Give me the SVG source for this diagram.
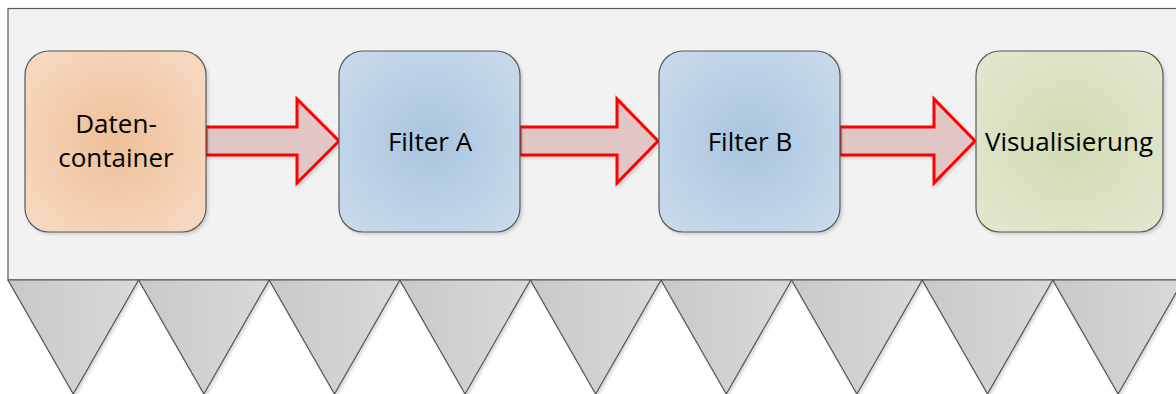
<svg xmlns="http://www.w3.org/2000/svg" width="1176" height="394" viewBox="0 0 1176 394">
<defs>
<radialGradient id="gOrange" cx="50%" cy="50%" r="60%">
<stop offset="0" stop-color="#efbf98"/><stop offset="1" stop-color="#f6d8bf"/>
</radialGradient>
<radialGradient id="gBlue" cx="50%" cy="50%" r="60%">
<stop offset="0" stop-color="#a9c4de"/><stop offset="1" stop-color="#c6d9ea"/>
</radialGradient>
<radialGradient id="gGreen" cx="50%" cy="50%" r="60%">
<stop offset="0" stop-color="#d2dbb2"/><stop offset="1" stop-color="#e1e6cc"/>
</radialGradient>
<linearGradient id="gTri" x1="0" y1="0" x2="1" y2="0">
<stop offset="0" stop-color="#c9c9c9"/><stop offset="1" stop-color="#d9d9d9"/>
</linearGradient>
<filter id="sh" x="-10%" y="-10%" width="130%" height="130%">
<feDropShadow dx="2" dy="2" stdDeviation="1.5" flood-color="#000" flood-opacity="0.15"/>
</filter>
</defs>
<style>
.box{stroke:#595959;stroke-width:1.2;filter:url(#sh)}
.lbl{font-family:"Open Sans","Liberation Sans",sans-serif;font-size:26px;fill:#000;text-anchor:middle}
.arr{fill:#e2c6c6;stroke:#ff0000;stroke-width:3;stroke-linejoin:miter;filter:url(#sh)}
.tri{fill:url(#gTri);stroke:#555;stroke-width:1.2;filter:url(#sh)}
</style>
<g id="container">
<rect x="8" y="8.5" width="1180" height="271.5" fill="#f2f2f2" stroke="#595959" stroke-width="1.2"/>
</g>
<g id="teeth">
<polygon class="tri" points="8,280 138.6,280 73.3,394"/>
<polygon class="tri" points="138.6,280 269.2,280 203.9,394"/>
<polygon class="tri" points="269.2,280 399.8,280 334.5,394"/>
<polygon class="tri" points="399.8,280 530.4,280 465.1,394"/>
<polygon class="tri" points="530.4,280 661,280 595.7,394"/>
<polygon class="tri" points="661,280 791.6,280 726.3,394"/>
<polygon class="tri" points="791.6,280 922.2,280 856.9,394"/>
<polygon class="tri" points="922.2,280 1052.8,280 987.5,394"/>
<polygon class="tri" points="1052.8,280 1183.4,280 1118.1,394"/>
</g>
<g id="connectors">
<polygon class="arr" points="206,127 297,127 297,99 339,141 297,183 297,155 206,155"/>
<polygon class="arr" points="520,127 617,127 617,99 658,141 617,183 617,155 520,155"/>
<polygon class="arr" points="840,127 934,127 934,99 975,141 934,183 934,155 840,155"/>
</g>
<g id="datencontainer">
<rect class="box" x="25" y="51" width="181" height="181" rx="24" fill="url(#gOrange)"/>
<text class="lbl" x="116" y="133">Daten-</text>
<text class="lbl" x="116" y="167">container</text>
</g>
<g id="filterA">
<rect class="box" x="339" y="51" width="181" height="181" rx="24" fill="url(#gBlue)"/>
<text class="lbl" x="430" y="151">Filter A</text>
</g>
<g id="filterB">
<rect class="box" x="659" y="51" width="181" height="181" rx="24" fill="url(#gBlue)"/>
<text class="lbl" x="750" y="151">Filter B</text>
</g>
<g id="visualisierung">
<rect class="box" x="976" y="51" width="187" height="181" rx="24" fill="url(#gGreen)"/>
<text class="lbl" x="1069" y="151">Visualisierung</text>
</g>
</svg>
